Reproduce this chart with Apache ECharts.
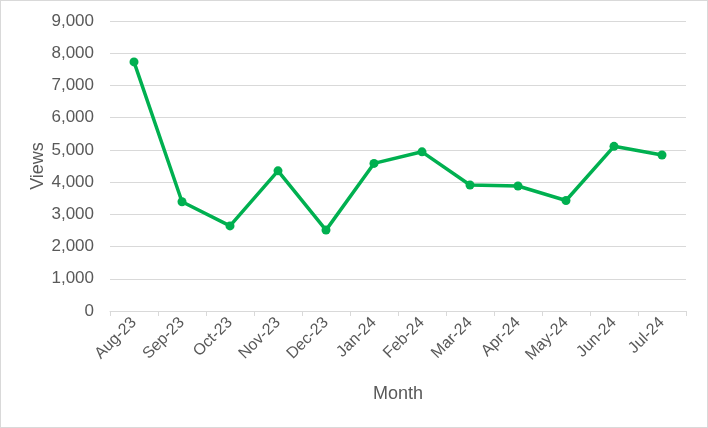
<!DOCTYPE html>
<html>
<head>
<meta charset="utf-8">
<script src="https://cdn.jsdelivr.net/npm/echarts@6/dist/echarts.min.js"></script>
<style>
html,body{margin:0;padding:0;background:#fff;}
#c{width:706px;height:426px;border:1px solid #d9d9d9;}
</style>
</head>
<body>
<div id="c"></div>
<script>
const months = ['Aug-23','Sep-23','Oct-23','Nov-23','Dec-23','Jan-24','Feb-24','Mar-24','Apr-24','May-24','Jun-24','Jul-24'];
const views = [7730, 3390, 2640, 4350, 2510, 4580, 4940, 3910, 3880, 3430, 5110, 4840];
const yMin = 0, yMax = 9000, yStep = 1000;

const font = 'Liberation Sans, Arial, sans-serif';
const chart = echarts.init(document.getElementById('c'), null, {renderer:'canvas'});
chart.setOption({
  animation:false,
  backgroundColor:'#fff',
  grid:{left:109, right:21, top:20, bottom:116, containLabel:false},
  xAxis:{
    type:'category', data:months, boundaryGap:true,
    name:'Month', nameLocation:'middle', nameGap:74, nameMoveOverlap:false,
    nameTextStyle:{color:'#595959', fontSize:18, fontFamily:font},
    axisLine:{show:true, lineStyle:{color:'#d9d9d9', width:1}},
    axisTick:{show:true, alignWithLabel:false, length:5, lineStyle:{color:'#d9d9d9'}},
    axisLabel:{rotate:45, color:'#595959', fontSize:16, margin:9, interval:0, fontFamily:font},
    splitLine:{show:false}
  },
  yAxis:{
    type:'value', min:yMin, max:yMax, interval:yStep,
    name:'Views', nameLocation:'middle', nameGap:63, nameRotate:90, nameMoveOverlap:false,
    nameTextStyle:{color:'#595959', fontSize:18, fontFamily:font},
    axisLine:{show:false}, axisTick:{show:false},
    axisLabel:{color:'#595959', fontSize:17, margin:16, fontFamily:font,
      formatter:v=>v.toLocaleString('en-US')},
    splitLine:{show:true, lineStyle:{color:'#d9d9d9', width:1}}
  },
  series:[{
    type:'line', data:views,
    lineStyle:{color:'#00b050', width:3.5},
    itemStyle:{color:'#00b050'},
    symbol:'circle', symbolSize:9, showSymbol:true
  }]
});
</script>
</body>
</html>
